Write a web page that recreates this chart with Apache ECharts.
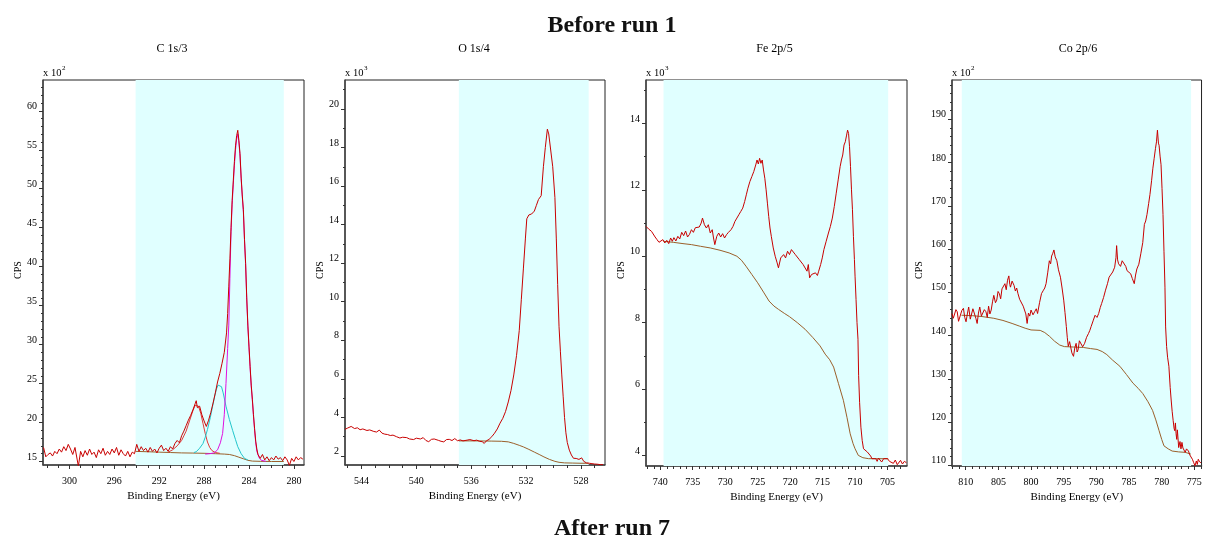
<!DOCTYPE html>
<html><head><meta charset="utf-8">
<script src="https://cdn.jsdelivr.net/npm/echarts@6/dist/echarts.min.js"></script>
<style>html,body{margin:0;padding:0;background:#fff}#c{width:1210px;height:540px}</style>
</head><body><div id="c"></div>
<script>
// ---------- DATA (binding energy eV, counts) ----------
const panelTitles = ['C 1s/3', 'O 1s/4', 'Fe 2p/5', 'Co 2p/6'];
const peakLabels = ['C 1s', 'O 1s', 'Fe 2p', 'Co 2p'];
const yScaleLabels = ['2', '3', '3', '2'];

const c1sXTicks = [280, 284, 288, 292, 296, 300];
const c1sYTicks = [15, 20, 25, 30, 35, 40, 45, 50, 55, 60];
const o1sXTicks = [528, 532, 536, 540, 544];
const o1sYTicks = [2, 4, 6, 8, 10, 12, 14, 16, 18, 20];
const fe2pXTicks = [705, 710, 715, 720, 725, 730, 735, 740];
const fe2pYTicks = [4, 6, 8, 10, 12, 14];
const co2pXTicks = [775, 780, 785, 790, 795, 800, 805, 810];
const co2pYTicks = [110, 120, 130, 140, 150, 160, 170, 180, 190];

const c1sRegion = [280.9, 294.1];
const o1sRegion = [527.44, 536.9];
const fe2pRegion = [704.9, 739.5];
const co2pRegion = [775.5, 810.6];

const c1sRaw = [[302.3,16.8],[302.1,15.6],[301.9,15.9],[301.7,16.1],[301.5,15.7],[301.3,16.3],[301.1,16.0],[300.9,16.6],[300.7,16.2],[300.5,16.9],[300.3,16.4],[300.1,17.2],[299.9,16.6],[299.7,15.9],[299.5,16.8],[299.3,15.2],[299.2,14.4],[299.0,16.3],[298.8,15.6],[298.6,16.4],[298.4,15.8],[298.2,16.6],[298.0,15.9],[297.8,16.2],[297.6,15.5],[297.4,16.5],[297.2,16.0],[297.0,16.7],[296.8,15.8],[296.6,16.3],[296.4,15.9],[296.2,16.6],[296.0,16.1],[295.8,16.8],[295.6,15.8],[295.4,16.5],[295.2,16.0],[295.0,15.7],[294.8,16.3],[294.6,15.6],[294.4,16.2],[294.2,16.0],[294.0,17.2],[293.8,16.3],[293.6,16.9],[293.4,16.4],[293.2,16.7],[293.0,16.2],[292.8,16.8],[292.6,16.3],[292.4,16.6],[292.2,16.1],[292.0,16.7],[291.8,17.1],[291.6,16.4],[291.4,16.7],[291.2,16.3],[291.0,16.9],[290.8,16.6],[290.6,17.3],[290.4,17.7],[290.2,17.4],[290.0,18.3],[289.8,18.9],[289.6,19.6],[289.4,20.3],[289.2,20.9],[289.0,21.6],[288.8,22.4],[288.7,22.8],[288.6,21.9],[288.4,22.1],[288.2,21.0],[288.0,20.2],[287.8,19.5],[287.6,20.3],[287.4,21.3],[287.2,22.5],[287.0,23.8],[286.8,25.2],[286.6,26.3],[286.4,27.6],[286.2,29.0],[286.0,31.5],[285.9,34.0],[285.8,37.5],[285.7,41.0],[285.6,45.0],[285.5,48.5],[285.4,51.0],[285.3,53.5],[285.2,55.5],[285.1,56.8],[285.0,57.5],[284.9,56.2],[284.8,54.5],[284.7,51.5],[284.6,49.2],[284.5,47.3],[284.4,43.5],[284.3,40.4],[284.2,36.0],[284.1,32.5],[284.0,29.8],[283.9,27.2],[283.8,24.8],[283.7,23.0],[283.6,21.0],[283.5,19.2],[283.4,17.6],[283.3,16.6],[283.2,15.9],[283.0,15.4],[282.8,15.9],[282.6,15.2],[282.4,15.6],[282.2,15.1],[282.0,15.5],[281.8,15.2],[281.6,15.7],[281.4,15.3],[281.2,15.5],[281.0,15.1],[280.8,15.6],[280.6,15.2],[280.4,14.5],[280.2,15.4],[280.0,15.0],[279.8,15.6],[279.6,15.2],[279.4,15.5],[279.2,15.3]];
const c1sBackground = [[294.1,16.3],[293,16.25],[292,16.2],[291,16.15],[290,16.1],[289,16.08],[288,16.05],[287,16.0],[286.2,15.95],[285.75,15.9],[285.3,15.75],[284.9,15.55],[284.5,15.35],[284.1,15.15],[283.7,15.05],[283,15.02],[282,15.0],[280.9,15.0]];
const c1sPeakCC = [[287.9,15.95],[287.5,16.0],[287.1,16.1],[286.8,16.5],[286.55,17.4],[286.35,18.6],[286.2,21.0],[286.05,25.0],[285.9,29.5],[285.8,32.5],[285.7,38.5],[285.6,44.5],[285.5,48.0],[285.4,50.5],[285.3,53.0],[285.2,55.0],[285.1,56.4],[285.0,57.0],[284.9,56.0],[284.8,54.2],[284.7,51.3],[284.6,49.0],[284.5,47.0],[284.4,43.3],[284.3,40.2],[284.2,35.8],[284.1,32.3],[284.0,29.6],[283.9,27.0],[283.8,24.6],[283.7,22.8],[283.6,20.8],[283.5,19.0],[283.4,17.4],[283.3,16.3],[283.1,15.5],[282.9,15.15],[282.5,15.02]];
const c1sPeakCO = [[288.9,16.15],[288.7,16.25],[288.4,16.7],[288.1,17.3],[287.9,18.1],[287.7,19.1],[287.45,20.6],[287.24,22.1],[287.05,23.4],[286.9,24.3],[286.75,24.8],[286.6,25.0],[286.45,24.6],[286.3,23.8],[286.05,22.1],[285.75,20.4],[285.46,19.0],[285.2,17.8],[285.0,16.9],[284.7,16.0],[284.4,15.4],[284.1,15.2]];
const c1sPeakOCO = [[291.2,16.2],[290.8,16.5],[290.4,17.0],[290.0,17.7],[289.6,18.9],[289.3,20.2],[289.0,21.5],[288.8,22.2],[288.7,22.4],[288.5,22.1],[288.3,21.2],[288.1,19.9],[287.9,18.6],[287.7,17.5],[287.5,16.8],[287.3,16.4],[287.0,16.15],[286.6,16.05]];

const o1sRaw = [[545.2,3.38],[545.0,3.45],[544.75,3.53],[544.5,3.42],[544.3,3.46],[544.1,3.36],[543.9,3.40],[543.6,3.32],[543.4,3.35],[543.1,3.27],[542.9,3.24],[542.7,3.34],[542.5,3.18],[542.3,3.13],[542.1,3.11],[541.9,3.06],[541.7,3.08],[541.45,3.0],[541.2,2.93],[541.0,2.97],[540.7,2.95],[540.5,2.88],[540.2,2.85],[540.0,2.92],[539.7,2.88],[539.5,2.95],[539.3,2.8],[539.1,2.74],[538.9,2.86],[538.7,2.88],[538.4,2.81],[538.2,2.76],[538.0,2.73],[537.8,2.85],[537.6,2.86],[537.4,2.8],[537.2,2.9],[537.0,2.79],[536.8,2.83],[536.6,2.78],[536.3,2.82],[536.1,2.85],[535.8,2.79],[535.6,2.82],[535.4,2.76],[535.2,2.74],[535.05,2.65],[534.9,2.78],[534.7,2.86],[534.5,3.0],[534.3,3.18],[534.1,3.4],[533.9,3.7],[533.7,3.95],[533.5,4.3],[533.3,4.8],[533.1,5.4],[532.9,6.2],[532.7,7.2],[532.5,8.5],[532.35,10.1],[532.2,11.7],[532.05,13.3],[531.95,14.3],[531.8,14.5],[531.6,14.55],[531.4,14.7],[531.25,15.0],[531.1,15.3],[530.9,15.5],[530.74,17.0],[530.6,18.0],[530.45,18.95],[530.35,18.7],[530.25,18.6],[530.06,17.0],[529.9,15.4],[529.8,13.3],[529.7,10.9],[529.6,8.7],[529.5,7.4],[529.4,6.2],[529.3,5.1],[529.2,4.0],[529.1,3.2],[529.0,2.7],[528.85,2.3],[528.7,2.05],[528.55,1.88],[528.35,1.87],[528.15,1.82],[527.95,1.9],[527.8,1.72],[527.6,1.64],[527.4,1.62],[527.2,1.6],[527.0,1.58],[526.8,1.57],[526.6,1.55],[526.4,1.55]];
const o1sBackground = [[536.9,2.78],[535.5,2.78],[534.5,2.77],[533.8,2.76],[533.3,2.73],[532.9,2.65],[532.5,2.55],[532.2,2.47],[531.8,2.34],[531.4,2.2],[531.0,2.06],[530.7,1.95],[530.3,1.82],[529.9,1.72],[529.6,1.67],[529.2,1.64],[528.6,1.63],[528.0,1.62],[527.45,1.62]];

const fe2pRaw = [[742.2,10.9],[742.0,10.95],[741.8,10.82],[741.6,10.88],[741.35,10.75],[741.1,10.7],[740.8,10.58],[740.5,10.5],[740.2,10.42],[739.9,10.38],[739.6,10.5],[739.3,10.4],[739.0,10.48],[738.7,10.38],[738.4,10.55],[738.15,10.45],[737.9,10.56],[737.6,10.46],[737.3,10.6],[737.0,10.52],[736.7,10.72],[736.4,10.62],[736.1,10.76],[735.8,10.58],[735.5,10.66],[735.2,10.8],[734.9,10.72],[734.6,10.86],[734.35,10.92],[734.0,10.88],[733.7,11.0],[733.5,11.15],[733.2,10.95],[732.9,10.85],[732.6,10.95],[732.3,10.7],[732.0,10.8],[731.8,10.55],[731.6,10.35],[731.3,10.6],[731.0,10.7],[730.7,10.58],[730.4,10.68],[730.1,10.55],[729.8,10.65],[729.5,10.72],[729.1,10.8],[728.8,10.9],[728.5,11.05],[728.2,11.15],[727.9,11.25],[727.6,11.35],[727.3,11.45],[727.0,11.65],[726.75,11.85],[726.5,12.05],[726.2,12.25],[725.9,12.4],[725.6,12.55],[725.3,12.75],[725.1,12.9],[724.9,12.78],[724.7,12.95],[724.5,12.8],[724.3,12.9],[724.1,12.6],[723.9,12.35],[723.7,12.0],[723.5,11.6],[723.3,11.2],[723.1,10.85],[722.9,10.6],[722.6,10.25],[722.3,10.0],[722.0,9.8],[721.8,9.65],[721.65,9.6],[721.45,9.95],[721.2,9.9],[721.0,10.05],[720.7,9.95],[720.4,10.15],[720.1,10.05],[719.8,10.2],[719.5,10.15],[719.2,10.05],[718.9,10.0],[718.6,9.9],[718.3,9.85],[718.0,9.75],[717.7,9.7],[717.4,9.55],[717.2,9.75],[717.0,9.35],[716.7,9.45],[716.4,9.4],[716.1,9.5],[715.8,9.42],[715.6,9.55],[715.3,9.75],[715.05,9.95],[714.8,10.2],[714.45,10.45],[714.1,10.7],[713.8,10.9],[713.5,11.15],[713.2,11.5],[712.9,11.9],[712.6,12.3],[712.3,12.7],[712.1,12.9],[711.9,13.05],[711.7,13.35],[711.5,13.45],[711.3,13.65],[711.15,13.8],[711.0,13.7],[710.85,13.3],[710.7,12.7],[710.55,12.0],[710.4,11.4],[710.25,10.6],[710.1,9.9],[710.0,9.4],[709.85,8.7],[709.7,8.0],[709.55,7.5],[709.45,6.4],[709.3,5.6],[709.1,4.85],[708.9,4.45],[708.7,4.2],[708.4,4.15],[708.1,4.1],[707.9,4.12],[707.6,3.98],[707.4,3.9],[707.1,3.95],[706.8,3.9],[706.6,3.82],[706.4,3.92],[706.1,3.86],[705.9,3.8],[705.6,3.9],[705.3,3.84],[705.0,3.9],[704.7,3.82],[704.4,3.88],[704.1,3.76],[703.8,3.86],[703.5,3.72],[703.3,3.78],[703.0,3.85],[702.7,3.74],[702.4,3.82],[702.1,3.78]];
const fe2pBackground = [[739.5,10.45],[738.0,10.42],[736.5,10.38],[735.2,10.35],[733.8,10.3],[732.3,10.25],[730.8,10.18],[729.4,10.1],[728.2,10.0],[727.5,9.88],[726.8,9.7],[725.9,9.45],[725.0,9.2],[724.1,8.92],[723.25,8.65],[722.5,8.5],[721.8,8.4],[720.9,8.28],[720.1,8.18],[718.9,8.0],[717.7,7.8],[716.5,7.55],[715.4,7.3],[714.6,7.05],[713.9,6.88],[713.3,6.66],[712.55,6.16],[711.8,5.66],[711.25,5.15],[710.75,4.65],[710.3,4.35],[710.0,4.2],[709.5,4.0],[708.8,3.93],[707.9,3.9],[706.5,3.9],[704.9,3.9]];

const co2pRaw = [[812.1,145.1],[811.9,144.0],[811.7,144.4],[811.5,146.0],[811.3,145.5],[811.1,143.3],[810.8,143.6],[810.6,145.8],[810.35,146.3],[810.15,144.2],[809.95,143.2],[809.75,145.0],[809.55,146.6],[809.3,143.8],[809.1,144.0],[808.9,146.2],[808.65,145.9],[808.45,144.0],[808.25,142.8],[808.05,145.2],[807.85,146.6],[807.6,144.5],[807.4,144.35],[807.15,146.0],[806.9,145.5],[806.7,144.2],[806.5,146.8],[806.3,145.0],[806.1,145.9],[805.9,147.8],[805.7,149.3],[805.45,147.6],[805.25,148.2],[805.05,150.2],[804.85,149.7],[804.65,148.5],[804.45,150.8],[804.2,151.0],[804.0,152.0],[803.8,150.6],[803.6,152.8],[803.4,153.8],[803.25,151.8],[803.15,151.2],[802.9,152.6],[802.6,151.6],[802.4,150.3],[802.2,151.0],[802.0,149.7],[801.75,148.4],[801.45,148.2],[801.2,146.8],[801.0,147.0],[800.8,145.0],[800.6,142.8],[800.4,145.2],[800.2,144.5],[800.0,145.9],[799.7,144.8],[799.45,145.5],[799.2,146.2],[799.0,145.1],[798.7,147.6],[798.4,149.7],[798.1,150.5],[797.9,151.0],[797.7,152.0],[797.45,154.5],[797.2,157.3],[797.0,156.6],[796.85,158.4],[796.7,158.9],[796.5,159.8],[796.3,158.2],[796.05,157.3],[795.8,155.2],[795.5,153.5],[795.25,151.0],[795.0,148.2],[794.8,145.3],[794.6,142.1],[794.45,139.5],[794.3,137.5],[794.1,138.6],[793.95,138.2],[793.75,136.0],[793.5,135.2],[793.3,137.2],[793.1,138.2],[792.95,136.2],[792.8,136.7],[792.6,138.8],[792.35,139.0],[792.1,137.4],[791.8,138.2],[791.5,139.6],[791.2,140.5],[791.0,141.2],[790.8,142.1],[790.5,143.4],[790.2,144.7],[789.9,144.2],[789.65,145.1],[789.4,146.5],[789.2,147.4],[788.9,148.8],[788.6,150.5],[788.3,152.0],[788.05,153.5],[787.75,153.8],[787.5,154.7],[787.2,155.8],[787.0,158.0],[786.9,160.8],[786.75,157.5],[786.6,156.6],[786.3,156.0],[786.05,157.3],[785.75,157.7],[785.5,156.0],[785.3,155.0],[785.0,154.8],[784.75,154.3],[784.5,153.2],[784.2,152.0],[784.0,154.0],[783.8,155.4],[783.5,156.5],[783.2,158.9],[782.9,161.5],[782.65,165.7],[782.45,166.5],[782.25,168.0],[782.0,170.5],[781.8,172.6],[781.55,175.8],[781.35,178.7],[781.15,181.0],[780.95,183.3],[780.8,184.8],[780.65,187.5],[780.5,184.5],[780.4,184.0],[780.25,181.5],[780.1,179.5],[779.95,174.0],[779.8,168.0],[779.65,159.5],[779.5,151.2],[779.4,142.0],[779.25,137.5],[779.1,135.0],[778.9,132.9],[778.7,128.0],[778.55,125.1],[778.4,122.5],[778.25,120.4],[778.1,118.5],[778.0,118.0],[777.9,119.8],[777.8,117.3],[777.7,116.0],[777.6,118.2],[777.4,114.1],[777.2,115.5],[777.05,113.8],[776.9,115.3],[776.75,114.0],[776.6,113.6],[776.4,113.0],[776.2,113.8],[775.9,113.3],[775.7,112.4],[775.5,112.8],[775.3,111.4],[775.1,110.6],[774.9,109.9],[774.7,111.0],[774.55,110.2],[774.4,111.4],[774.2,110.8],[774.0,110.6]];
const co2pBackground = [[810.65,144.7],[809,144.6],[807.5,144.4],[805.7,144.0],[804.3,143.5],[802.9,142.8],[801.8,142.2],[800.9,141.7],[800.0,141.3],[798.6,141.2],[797.9,140.7],[797.15,139.8],[796.4,138.7],[795.6,137.8],[794.9,137.45],[793.5,137.35],[792.0,137.25],[790.9,137.0],[789.9,136.8],[789.1,136.3],[788.4,135.6],[787.5,134.3],[786.4,132.9],[785.4,131.0],[784.4,129.0],[783.6,127.8],[782.9,126.6],[782.1,124.7],[781.4,122.7],[780.9,120.5],[780.4,118.0],[780.0,116.0],[779.65,114.5],[779.0,113.8],[778.4,113.3],[777.4,113.1],[776.4,113.0],[775.55,112.6]];

// ---------- LAYOUT ----------
const FONT = 'Liberation Serif';
const RAW = '#c80000', BG = '#9b5f2a';
function steps(a, b, s) { const r = []; for (let v = a; v <= b + 1e-9; v += s) r.push(+v.toFixed(4)); return r; }

const panels = [
  {left:43, width:261, height:385, x:[279.1,302.35], y:[14.55,63.95], xt:c1sXTicks, yt:c1sYTicks, xm:steps(280,302,1), ym:steps(15,63,1), region:c1sRegion,
   lines:[[c1sBackground,BG],[c1sPeakOCO,'#e03838'],[c1sPeakCO,'#22c6cc'],[c1sPeakCC,'#e010e0'],[c1sRaw,RAW]], cps:18, peak:[237.5,114.5]},
  {left:345, width:260, height:385, x:[526.25,545.2], y:[1.53,21.5], xt:o1sXTicks, yt:o1sYTicks, xm:steps(527,545,1), ym:steps(2,21,1), region:o1sRegion,
   lines:[[o1sBackground,BG],[o1sRaw,RAW]], cps:320, peak:[547.5,113.5]},
  {left:646, width:261, height:386, x:[702.0,742.2], y:[3.68,15.31], xt:fe2pXTicks, yt:fe2pYTicks, xm:steps(703,742,1), ym:steps(4,15,1), region:fe2pRegion,
   lines:[[fe2pBackground,BG],[fe2pRaw,RAW]], cps:621, peak:[846,111]},
  {left:952, width:255, height:386, x:[773.9,812.1], y:[109.84,199.1], xt:co2pXTicks, yt:co2pYTicks, xm:steps(774,812,1), ym:steps(110,198,2), region:co2pRegion,
   lines:[[co2pBackground,BG],[co2pRaw,RAW]], cps:919, peak:[1162,110.5]}
];
const titleX = [172, 474, 774.5, 1078];

const grid = [], xAxis = [], yAxis = [], series = [], graphic = [];
const lab = {fontFamily:FONT, fontSize:10, color:'#000'};
panels.forEach((p, i) => {
  grid.push({left:p.left, top:80, width:p.width, height:p.height, show:true, borderColor:'#222', borderWidth:1, containLabel:false});
  xAxis.push({type:'value', gridIndex:i, inverse:true, min:p.x[0], max:p.x[1], position:'bottom',
    axisLine:{show:true, onZero:false, lineStyle:{color:'#444', width:1.5}},
    axisTick:{show:true, length:4, customValues:p.xt, lineStyle:{color:'#333'}},
    axisLabel:Object.assign({show:true, customValues:p.xt, margin:11}, lab),
    splitLine:{show:false},
    name:'Binding Energy (eV)', nameLocation:'middle', nameGap:20,
    nameTextStyle:{fontFamily:FONT, fontSize:11, color:'#000'}});
  xAxis.push({type:'value', gridIndex:i, inverse:true, min:p.x[0], max:p.x[1], position:'bottom', offset:0,
    axisLine:{show:false, onZero:false},
    axisTick:{show:true, length:3, customValues:p.xm, lineStyle:{color:'#333'}},
    axisLabel:{show:false, customValues:p.xm}, splitLine:{show:false}});
  yAxis.push({type:'value', gridIndex:i, min:p.y[0], max:p.y[1], position:'left',
    axisLine:{show:true, onZero:false, lineStyle:{color:'#444', width:1.5}},
    axisTick:{show:true, length:4, customValues:p.yt, lineStyle:{color:'#333'}},
    axisLabel:Object.assign({show:true, customValues:p.yt, margin:6, verticalAlign:'bottom', lineHeight:9}, lab),
    splitLine:{show:false}});
  yAxis.push({type:'value', gridIndex:i, min:p.y[0], max:p.y[1], position:'left', offset:0,
    axisLine:{show:false, onZero:false},
    axisTick:{show:true, length:2, customValues:p.ym, lineStyle:{color:'#333'}},
    axisLabel:{show:false, customValues:p.ym}, splitLine:{show:false}});

  series.push({type:'line', xAxisIndex:2*i, yAxisIndex:2*i, data:[[p.region[0], p.y[0]]], symbol:'none', silent:true, z:1,
    lineStyle:{width:0, opacity:0},
    markArea:{silent:true, itemStyle:{color:'#e0ffff', opacity:1}, data:[[{xAxis:p.region[0]}, {xAxis:p.region[1]}]]}});
  p.lines.forEach((l, k) => {
    series.push({type:'line', xAxisIndex:2*i, yAxisIndex:2*i, data:l[0], symbol:'none', showSymbol:false, silent:true, z:3+k,
      lineStyle:{width:1, color:l[1]}});
  });

  graphic.push({type:'text', x:titleX[i], y:48.5, style:{text:panelTitles[i], font:'12px "' + FONT + '"', fill:'#000', align:'center', verticalAlign:'middle'}});
  graphic.push({type:'text', x:p.left, y:73, style:{text:'x 10', font:'10.5px "' + FONT + '"', fill:'#000', align:'left', verticalAlign:'middle'}});
  graphic.push({type:'text', x:p.left + 19, y:68.5, style:{text:yScaleLabels[i], font:'7px "' + FONT + '"', fill:'#000', align:'left', verticalAlign:'middle'}});
  graphic.push({type:'text', x:p.cps, y:270, rotation:Math.PI/2, style:{text:'CPS', font:'10px "' + FONT + '"', fill:'#000', align:'center', verticalAlign:'middle'}});
  graphic.push({type:'text', x:p.peak[0], y:p.peak[1], rotation:Math.PI/2, style:{text:peakLabels[i], font:'10px "' + FONT + '"', fill:'#000', align:'center', verticalAlign:'middle'}});
});
graphic.push({type:'text', x:612, y:26, style:{text:'Before run 1', font:'bold 24px "' + FONT + '"', fill:'#111', align:'center', verticalAlign:'middle'}});
graphic.push({type:'text', x:612, y:529, style:{text:'After run 7', font:'bold 24px "' + FONT + '"', fill:'#111', align:'center', verticalAlign:'middle'}});

const chart = echarts.init(document.getElementById('c'));
chart.setOption({animation:false, backgroundColor:'#fff', grid, xAxis, yAxis, series, graphic});
</script></body></html>
